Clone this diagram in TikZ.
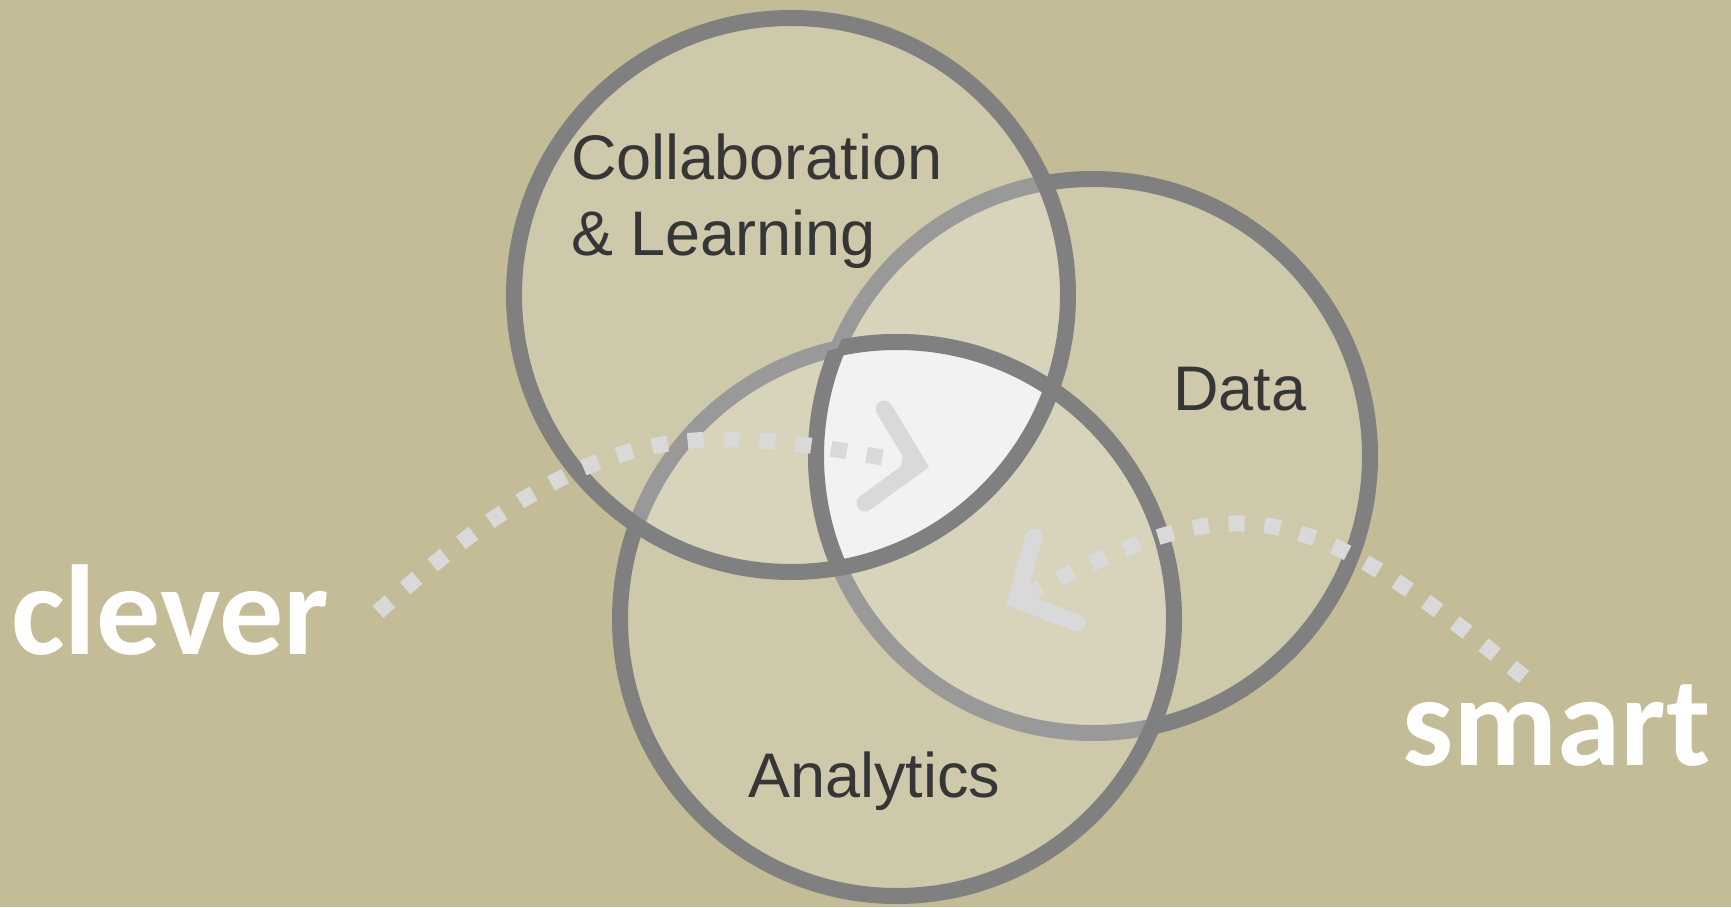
\documentclass[tikz,border=0pt]{standalone}
\usepackage{fontspec}
\setmainfont{Liberation Sans}
\newfontfamily\wordfont{Carlito}
\usetikzlibrary{arrows.meta}

\definecolor{bg}{HTML}{C4BC96}
\definecolor{ring}{HTML}{808080}
\definecolor{core}{HTML}{F2F2F2}
\definecolor{hint}{HTML}{D9D9D9}
\definecolor{label}{HTML}{363636}

\begin{document}
\begin{tikzpicture}[x=0.5pt, y=0.5pt,
    set/.style={fill=white, fill opacity=0.2, draw=ring, draw opacity=1, line width=8pt},
    trail/.style={draw=hint, line width=8pt, dash pattern=on 8pt off 10pt,
      -{Straight Barb[length=22pt, width=48pt, line width=8.5pt 0, line cap=round, line join=miter]}},
    tag/.style={text=label, font=\fontsize{31.5}{38.5}\selectfont, inner sep=0pt, align=left},
    word/.style={text=white, font=\wordfont\bfseries\fontsize{64}{64}\selectfont, inner sep=0pt}]
    \fill[bg] (0,0) rectangle (1731,907);
    \useasboundingbox (0,0) rectangle (1731,907);

    \coordinate (cA) at (791,612);
    \coordinate (cB) at (1093,451);
    \coordinate (cC) at (897,288);

    % the three sets, back to front
    \draw[set] (cB) circle[radius=277];
    \draw[set] (cC) circle[radius=277];
    \draw[set] (cA) circle[radius=277];

    % where all three meet
    \begin{scope}
      \clip (cA) circle[radius=277];
      \clip (cB) circle[radius=277];
      \fill[core] (cC) circle[radius=277];
    \end{scope}
    \begin{scope}
      \clip (cA) circle[radius=277];
      \clip (cB) circle[radius=277];
      \draw[ring, line width=8pt] (cC) circle[radius=277];
    \end{scope}
    \begin{scope}
      \clip (cB) circle[radius=277];
      \clip (cC) circle[radius=277];
      \draw[ring, line width=8pt] (cA) circle[radius=277];
    \end{scope}
    \begin{scope}
      \clip (cA) circle[radius=277];
      \clip (cC) circle[radius=277];
      \draw[ring, line width=8pt] (cB) circle[radius=277];
    \end{scope}

    \node[tag, anchor=base west] (collab) at (571,651) {Collaboration\\\& Learning};
    \node[tag, anchor=base west] (data) at (1173,496) {Data};
    \node[tag, anchor=base west] (analytics) at (748,110) {Analytics};

    \node[word, anchor=base west] (clever) at (11,253) {clever};
    \node[word, anchor=base west] (smart) at (1402,142) {smart};

    \coordinate (cleverend) at (378,295);
    \coordinate (coreW) at (929,440);
    \coordinate (smartend) at (1524,230);
    \coordinate (coreE) at (1006,302);
    \draw[trail] (cleverend) .. controls (588,483) and (682,490) .. (coreW);
    \draw[trail] (smartend) .. controls (1291,419) and (1236,418) .. (coreE);
\end{tikzpicture}
\end{document}
